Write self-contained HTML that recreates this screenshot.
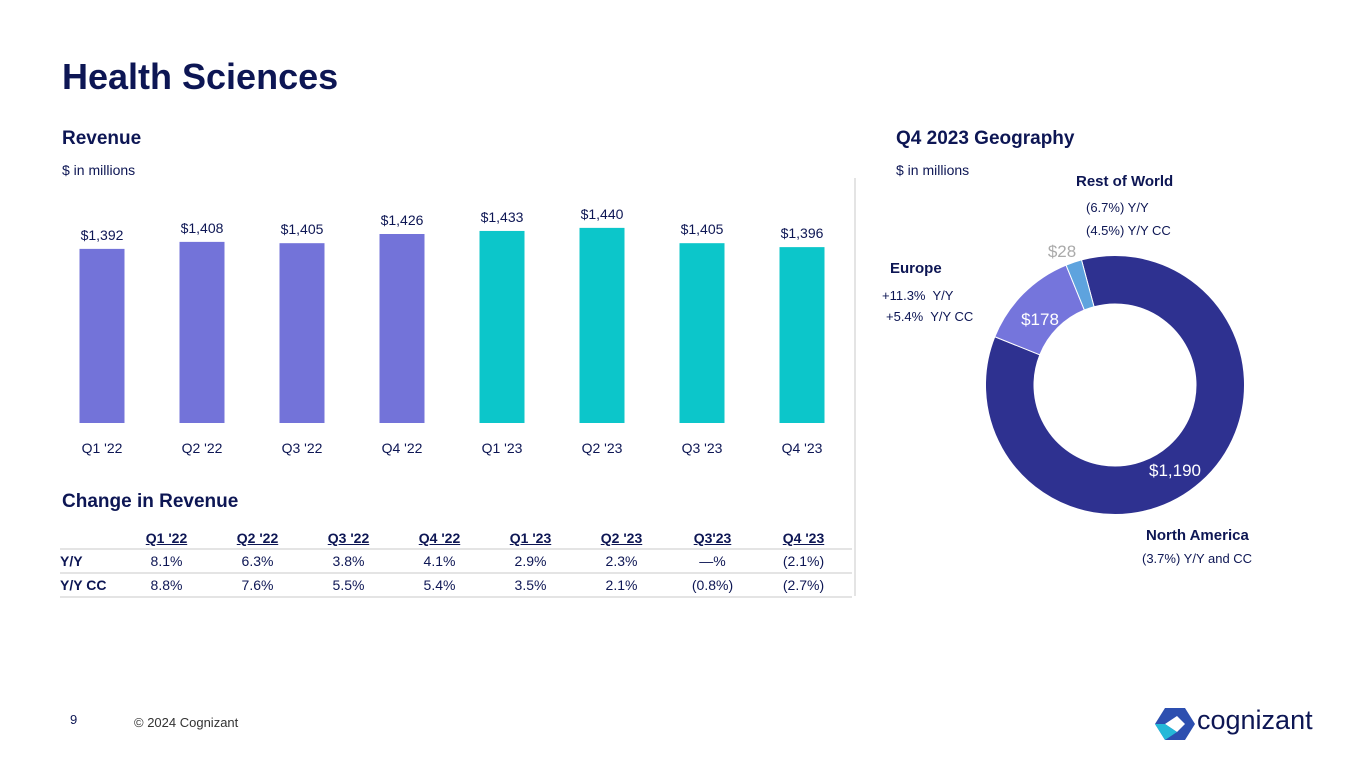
<!DOCTYPE html>
<html><head><meta charset="utf-8"><style>
body{margin:0;width:1365px;height:768px;background:#fff;font-family:"Liberation Sans",sans-serif;color:#0d1654;overflow:hidden;position:relative}
.a{position:absolute;white-space:nowrap}
table{border-collapse:collapse;table-layout:fixed}
td{text-align:center;padding:0}
</style></head><body>
<div class="a" style="left:62px;top:56px;font-size:36px;font-weight:bold">Health Sciences</div>
<div class="a" style="left:62px;top:128px;font-size:19px;font-weight:bold">Revenue</div>
<div class="a" style="left:62px;top:162px;font-size:14px">$ in millions</div>
<div class="a" style="left:896px;top:128px;font-size:19px;font-weight:bold">Q4 2023 Geography</div>
<div class="a" style="left:896px;top:162px;font-size:14px">$ in millions</div>
<div class="a" style="left:854px;top:178px;width:2px;height:418px;background:#e4e4e4"></div>
<svg id="bars" class="a" style="left:0;top:0" width="860" height="470"></svg>
<div class="a" style="left:62px;top:491px;font-size:19px;font-weight:bold">Change in Revenue</div>
<table class="a" style="left:60px;top:527px;width:792px;font-size:14px">
<colgroup><col style="width:61px"><col span="8" style="width:91px"><col style="width:3px"></colgroup>
<tr style="height:22px;border-bottom:2px solid #e4e4e4;font-weight:bold"><td></td><td style="text-decoration:underline">Q1 '22</td><td style="text-decoration:underline">Q2 '22</td><td style="text-decoration:underline">Q3 '22</td><td style="text-decoration:underline">Q4 '22</td><td style="text-decoration:underline">Q1 '23</td><td style="text-decoration:underline">Q2 '23</td><td style="text-decoration:underline">Q3'23</td><td style="text-decoration:underline">Q4 '23</td><td></td></tr>
<tr style="height:24px;border-bottom:2px solid #e4e4e4"><td style="font-weight:bold;text-align:left">Y/Y</td><td>8.1%</td><td>6.3%</td><td>3.8%</td><td>4.1%</td><td>2.9%</td><td>2.3%</td><td>—%</td><td>(2.1%)</td><td></td></tr>
<tr style="height:24px;border-bottom:2px solid #e4e4e4"><td style="font-weight:bold;text-align:left">Y/Y CC</td><td>8.8%</td><td>7.6%</td><td>5.5%</td><td>5.4%</td><td>3.5%</td><td>2.1%</td><td>(0.8%)</td><td>(2.7%)</td><td></td></tr>
</table>
<svg id="donut" class="a" style="left:0;top:0" width="1365" height="600"></svg>
<div class="a" style="left:1076px;top:173px;font-size:15px;font-weight:bold">Rest of World</div>
<div class="a" style="left:1086px;top:200px;font-size:13px">(6.7%) Y/Y</div>
<div class="a" style="left:1086px;top:223px;font-size:13px">(4.5%) Y/Y CC</div>
<div class="a" style="left:890px;top:260px;font-size:15px;font-weight:bold">Europe</div>
<div class="a" style="left:882px;top:288px;font-size:13px">+11.3%&nbsp; Y/Y</div>
<div class="a" style="left:886px;top:309px;font-size:13px">+5.4%&nbsp; Y/Y CC</div>
<div class="a" style="left:1146px;top:527px;font-size:15px;font-weight:bold">North America</div>
<div class="a" style="left:1142px;top:551px;font-size:13px">(3.7%) Y/Y and CC</div>
<div class="a" style="left:70px;top:712px;font-size:13px">9</div>
<div class="a" style="left:134px;top:715px;font-size:13px;color:#333">© 2024 Cognizant</div>
<svg class="a" style="left:1155px;top:706px" width="40" height="36"><polygon points="10,2 30,2 40,18 30,34 10,34 0,18" fill="#2d4fb0"/><polygon points="10,18 22,10 30,18 22,26" fill="#fff"/><polygon points="0,18 10,34 22,26 10,18" fill="#25b8d8"/></svg>
<div class="a" style="left:1197px;top:705px;font-size:27px;color:#0d1654">cognizant</div>
<script>
const categories=["Q1 '22","Q2 '22","Q3 '22","Q4 '22","Q1 '23","Q2 '23","Q3 '23","Q4 '23"];
const revenue=[1392,1408,1405,1426,1433,1440,1405,1396];
const barLabels=["$1,392","$1,408","$1,405","$1,426","$1,433","$1,440","$1,405","$1,396"];
const geoNames=["North America","Europe","Rest of World"];
const geoValues=[1190,178,28];
const geoLabels=["$1,190","$178","$28"];
const NS="http://www.w3.org/2000/svg";
function mk(p,t,a){const e=document.createElementNS(NS,t);for(const k in a)e.setAttribute(k,a[k]);p.appendChild(e);return e;}
const base=423,minV=994,k=0.4375;
const yS=v=>base-(v-minV)*k, xS=i=>102+i*100;
const bs=document.getElementById('bars');
revenue.forEach((v,i)=>{
 const r=mk(bs,'rect',{x:xS(i)-22.5,y:yS(v),width:45,height:base-yS(v),fill:i<4?'#7373d9':'#0cc6ca'});
 
 
 const t=mk(bs,'text',{x:xS(i),y:yS(v)-9,'text-anchor':'middle','font-size':14,fill:'#0d1654','font-family':'Liberation Sans'});t.textContent=barLabels[i];
 
 
 const c=mk(bs,'text',{x:xS(i),y:453,'text-anchor':'middle','font-size':14,fill:'#0d1654','font-family':'Liberation Sans'});c.textContent=categories[i];
 
 
});
const ds=document.getElementById('donut');
const cx=1115,cy=385,R=129.5,r0=81,cols=['#2e3190','#7575dc','#5ea3de'];
const tot=geoValues.reduce((a,b)=>a+b,0);
let ang=-15;
const pt=(a,rr)=>[cx+rr*Math.sin(a*Math.PI/180),cy-rr*Math.cos(a*Math.PI/180)];
geoValues.forEach((v,i)=>{
 const sw=v/tot*360,a1=ang,a2=ang+sw,lg=sw>180?1:0;
 const [x1,y1]=pt(a1,R),[x2,y2]=pt(a2,R),[x3,y3]=pt(a2,r0),[x4,y4]=pt(a1,r0);
 const p=mk(ds,'path',{d:`M${x1},${y1}A${R},${R} 0 ${lg} 1 ${x2},${y2}L${x3},${y3}A${r0},${r0} 0 ${lg} 0 ${x4},${y4}Z`,fill:cols[i],stroke:'#fff','stroke-width':1});
 
 
 ang=a2;
});
const lp=[[1175,476,'#fff'],[1040,325,'#fff'],[1062,257,'#aaa']];
geoLabels.forEach((l,i)=>{const t=mk(ds,'text',{x:lp[i][0],y:lp[i][1],'text-anchor':'middle','font-size':17,fill:lp[i][2],'font-family':'Liberation Sans'});t.textContent=l;
 
 });
</script>
</body></html>
